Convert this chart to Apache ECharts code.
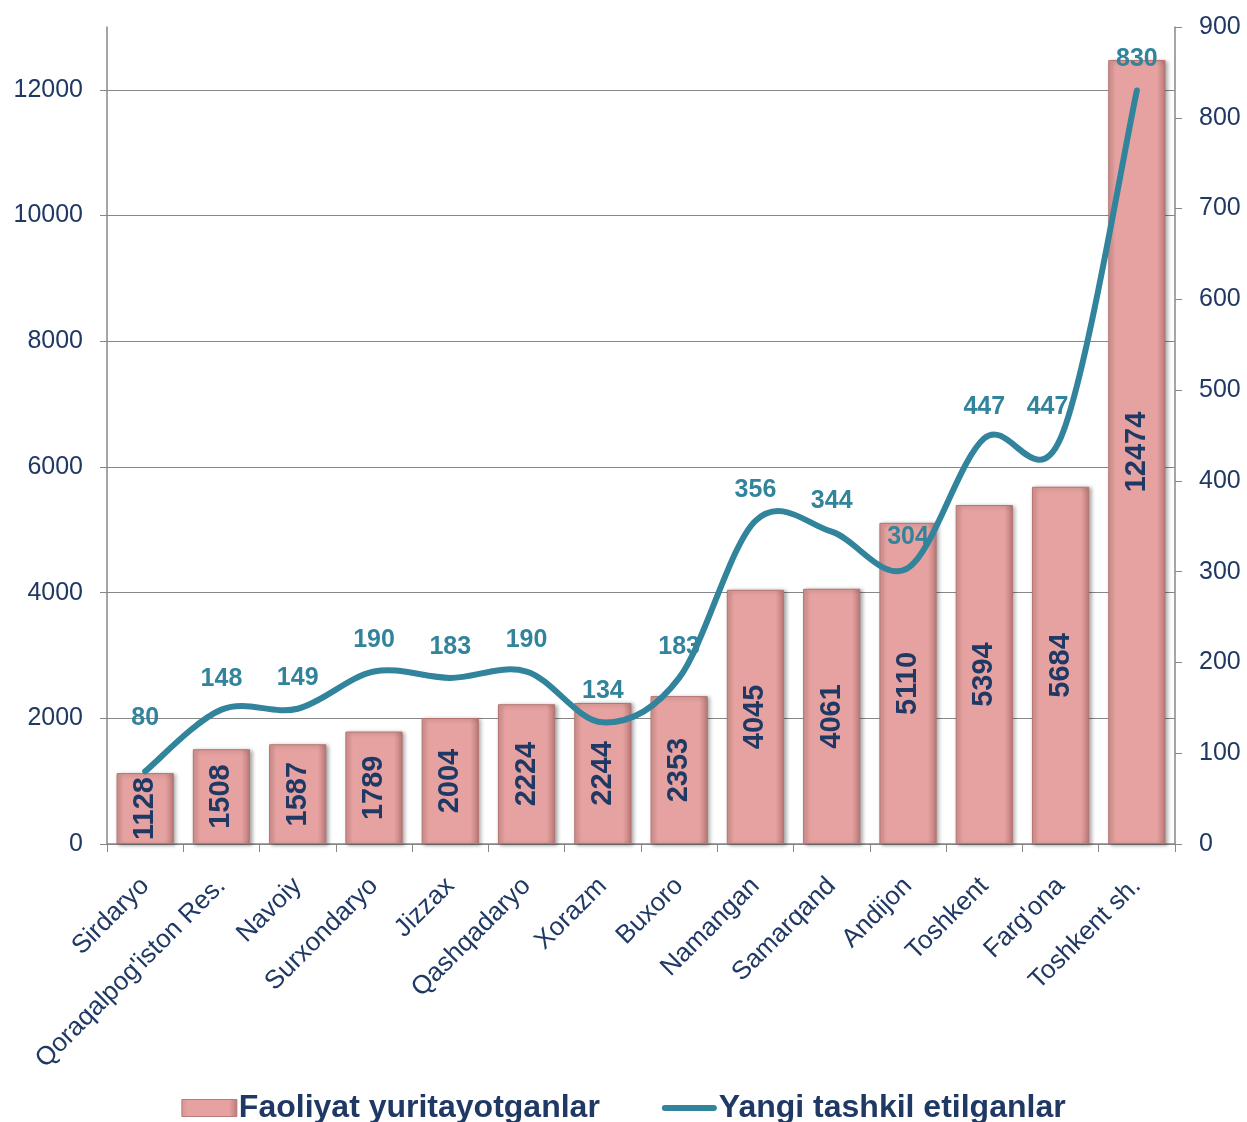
<!DOCTYPE html>
<html>
<head>
<meta charset="utf-8">
<script src="https://cdn.jsdelivr.net/npm/echarts@6/dist/echarts.min.js"></script>
<style>html,body{margin:0;padding:0;background:#fff;}#c{width:1247px;height:1122px;}</style>
</head>
<body>
<div id="c"></div>
<script>
const categories = ["Sirdaryo", "Qoraqalpog'iston Res.", "Navoiy", "Surxondaryo", "Jizzax", "Qashqadaryo", "Xorazm", "Buxoro", "Namangan", "Samarqand", "Andijon", "Toshkent", "Farg'ona", "Toshkent sh."];
const faoliyat = [1128, 1508, 1587, 1789, 2004, 2224, 2244, 2353, 4045, 4061, 5110, 5394, 5684, 12474];
const yangi = [80, 148, 149, 190, 183, 190, 134, 183, 356, 344, 304, 447, 447, 830];
const seriesNames = ["Faoliyat yuritayotganlar", "Yangi tashkil etilganlar"];

const navy = '#1F3864';
const teal = '#31849B';
const grey = '#878787';
const font = 'Arial, "Liberation Sans", sans-serif';

const chart = echarts.init(document.getElementById('c'), null, {renderer: 'canvas'});
const barGrad = new echarts.graphic.LinearGradient(0, 0, 1, 0, [
  {offset: 0, color: '#D69391'},
  {offset: 0.12, color: '#E6A2A0'},
  {offset: 0.85, color: '#E6A2A0'},
  {offset: 1, color: '#B97977'}
]);

// Excel-style smooth curve through the points (Catmull-Rom -> cubic Bezier)
function renderCurve(params, api) {
  if (params.dataIndex !== 0) return null;
  const pts = yangi.map((v, i) => api.coord([i, v]));
  const n = pts.length;
  let d = 'M' + pts[0][0] + ' ' + pts[0][1];
  for (let i = 0; i < n - 1; i++) {
    const p0 = pts[Math.max(i - 1, 0)], p1 = pts[i], p2 = pts[i + 1], p3 = pts[Math.min(i + 2, n - 1)];
    const c1x = p1[0] + (p2[0] - p0[0]) / 6, c1y = p1[1] + (p2[1] - p0[1]) / 6;
    const c2x = p2[0] - (p3[0] - p1[0]) / 6, c2y = p2[1] - (p3[1] - p1[1]) / 6;
    d += ' C' + c1x + ' ' + c1y + ' ' + c2x + ' ' + c2y + ' ' + p2[0] + ' ' + p2[1];
  }
  return {
    type: 'path',
    shape: {pathData: d},
    style: {fill: null, stroke: teal, lineWidth: 6, lineCap: 'round', lineJoin: 'round'}
  };
}

const labelOffsets = {0: [0, -22], 12: [-13, 0]};

chart.setOption({
  animation: false,
  textStyle: {fontFamily: font},
  grid: {left: 107, right: 72, top: 27, bottom: 278, containLabel: false},
  legend: {
    bottom: -7,
    left: 'center',
    itemGap: 62,
    itemWidth: 55,
    itemHeight: 17,
    textStyle: {fontFamily: font, fontSize: 32, fontWeight: 'bold', color: navy, padding: [0, 0, 0, -3]},
    data: [
      {name: seriesNames[0], icon: 'rect', itemStyle: {color: barGrad, borderColor: '#B97977', borderWidth: 1}},
      {name: seriesNames[1], icon: 'path://M0,0M3,5.5L52,5.5A3,3 0 0 1 52,11.5L3,11.5A3,3 0 0 1 3,5.5ZM55,17', itemStyle: {color: teal, borderWidth: 0}}
    ]
  },
  xAxis: {
    type: 'category',
    data: categories,
    axisLine: {lineStyle: {color: grey, width: 1.5}},
    axisTick: {show: true, length: 8, lineStyle: {color: grey}},
    axisLabel: {rotate: 45, fontSize: 26, color: navy, margin: 38, interval: 0},
  },
  yAxis: [
    {
      type: 'value', min: 0, max: 13000, interval: 2000,
      axisLine: {show: true, lineStyle: {color: grey, width: 1.5}},
      axisTick: {show: true, length: 7, lineStyle: {color: grey}},
      axisLabel: {fontSize: 25, color: navy, margin: 24, showMaxLabel: false, formatter: v => String(v)},
      splitLine: {show: true, showMaxLine: false, lineStyle: {color: grey, width: 1.2}}
    },
    {
      type: 'value', min: 0, max: 900, interval: 100, position: 'right',
      axisLine: {show: true, lineStyle: {color: grey, width: 1.5}},
      axisTick: {show: true, inside: false, length: 7, lineStyle: {color: grey}},
      axisLabel: {fontSize: 25, color: navy, margin: 24},
      splitLine: {show: false}
    }
  ],
  series: [
    {
      name: seriesNames[0],
      type: 'bar',
      yAxisIndex: 0,
      data: faoliyat,
      barCategoryGap: '25%',
      itemStyle: {color: barGrad, borderColor: '#B47472', borderWidth: 1,
        shadowColor: 'rgba(0,0,0,0.35)', shadowBlur: 4, shadowOffsetX: 2, shadowOffsetY: 1},
      label: {
        show: true, position: 'inside', rotate: 90,
        fontSize: 29, fontWeight: 'bold', color: navy, fontFamily: font
      },
      z: 2
    },
    {
      name: '_curve',
      type: 'custom',
      coordinateSystem: 'cartesian2d',
      yAxisIndex: 1,
      data: yangi.map((v, i) => [i, v]),
      encode: {x: 0, y: 1},
      renderItem: renderCurve,
      silent: true,
      z: 4
    },
    {
      name: seriesNames[1],
      type: 'line',
      yAxisIndex: 1,
      data: yangi.map((v, i) => labelOffsets[i] ? {value: v, label: {offset: labelOffsets[i]}} : v),
      symbol: 'circle',
      symbolSize: 1,
      showSymbol: true,
      lineStyle: {opacity: 0, width: 0},
      itemStyle: {color: 'rgba(0,0,0,0)', borderWidth: 0},
      label: {
        show: true, position: 'top', distance: 18,
        fontSize: 25, fontWeight: 'bold', color: teal, fontFamily: font
      },
      z: 6
    }
  ]
});
</script>
</body>
</html>
